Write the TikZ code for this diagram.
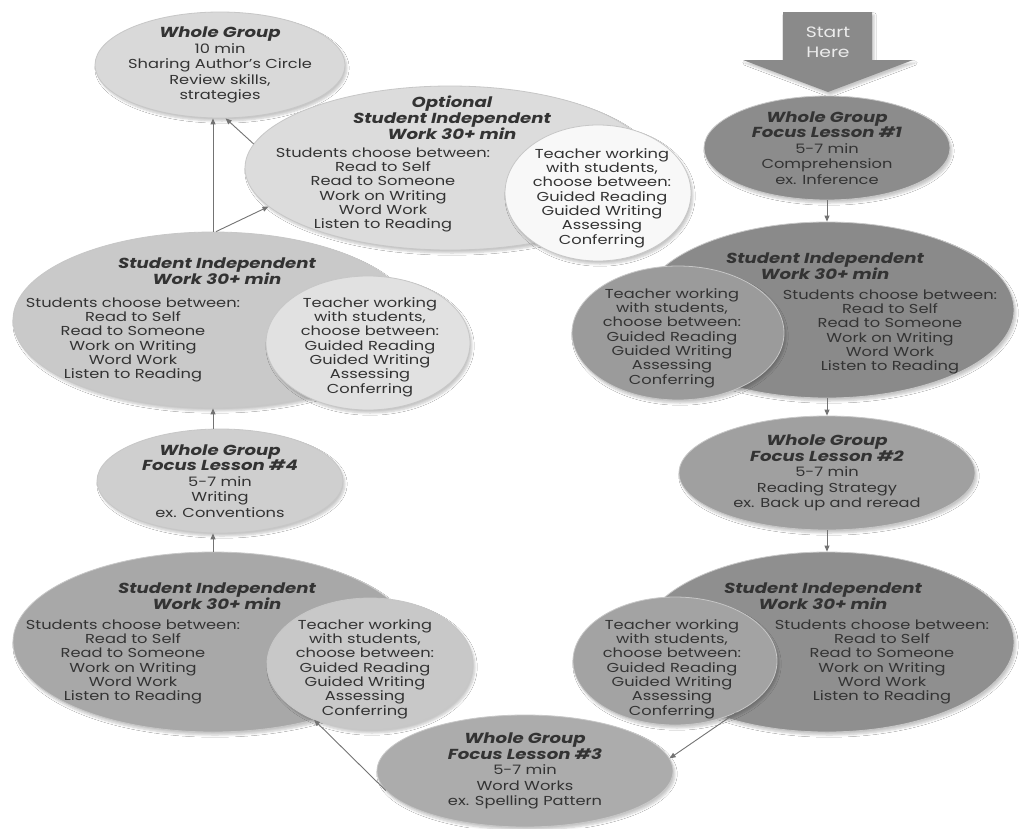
\documentclass[tikz,border=0pt]{standalone}
\usepackage{fontspec}
\setmainfont{Poppins}[FakeStretch=1.25]
\usetikzlibrary{arrows.meta,shapes.geometric,shadows.blur}

\definecolor{gWg}{HTML}{D9D9D9}
\definecolor{gOpt}{HTML}{DCDCDC}
\definecolor{gOptIn}{HTML}{F8F8F8}
\definecolor{gStart}{HTML}{8A8A8A}
\definecolor{gFlA}{HTML}{8C8C8C}
\definecolor{gSiwA}{HTML}{8A8A8A}
\definecolor{gSiwAIn}{HTML}{9B9B9B}
\definecolor{gFlB}{HTML}{A0A0A0}
\definecolor{gSiwB}{HTML}{8F8F8F}
\definecolor{gSiwBIn}{HTML}{A3A3A3}
\definecolor{gFlC}{HTML}{ACACAC}
\definecolor{gSiwC}{HTML}{A8A8A8}
\definecolor{gSiwCIn}{HTML}{C8C8C8}
\definecolor{gFlD}{HTML}{CFCFCF}
\definecolor{gSiwD}{HTML}{C9C9C9}
\definecolor{gSiwDIn}{HTML}{E1E1E1}

\newcommand{\hdr}[1]{{\fontsize{14.5}{17.5}\selectfont\bfseries\itshape #1}}
\newcommand{\kids}{Students choose between:\\Read to Self\\Read to Someone\\Work on Writing\\Word Work\\Listen to Reading}
\newcommand{\teach}{Teacher working\\with students,\\choose between:\\Guided Reading\\Guided Writing\\Assessing\\Conferring}

\begin{document}
\begin{tikzpicture}[x=1pt,y=-1pt,
  bubble/.style={ellipse,draw=black!22,line width=.8pt,inner sep=-14pt,align=center,
    text=black!80,font=\fontsize{13}{15.5}\selectfont,
    blur shadow={shadow xshift=2pt,shadow yshift=-3pt,shadow opacity=22,shadow blur steps=6}},
  txt/.style={align=center,text=black!80,font=\fontsize{13}{14.3}\selectfont,inner sep=0pt},
  flow/.style={draw=black!55,line width=.9pt,-{Triangle[width=5pt,length=6pt]}}]
\useasboundingbox[fill=white] (0,0) rectangle (1020,828);

% Start arrow
\fill[gStart,blur shadow={shadow xshift=2pt,shadow yshift=-3pt,shadow opacity=22}]
  (783,12) -- (872,12) -- (872,60) -- (913,60) -- (828,92) -- (743,60) -- (783,60) -- cycle;
\node[txt,text=white!92!black,font=\fontsize{15}{20}\selectfont] (start) at (828,42) {Start\\Here};

% Right column
\node[bubble,fill=gFlA,minimum width=246,minimum height=104] (fl1) at (827,148)
  {\hdr{Whole Group}\\\hdr{Focus Lesson \#1}\\5-7 min\\Comprehension\\ex. Inference};

\node[bubble,fill=gSiwA,minimum width=374,minimum height=176] (siw1) at (827,310) {};
\node[bubble,fill=gSiwAIn,minimum width=212,minimum height=134] (siw1in) at (678,333) {};
\node[txt] (siw1h) at (825,266) {\hdr{Student Independent}\\\hdr{Work 30+ min}};
\node[txt] (siw1s) at (890,332) {\kids};
\node[txt] (siw1t) at (672,338) {\teach};

\node[bubble,fill=gFlB,minimum width=296,minimum height=114] (fl2) at (827,473)
  {\hdr{Whole Group}\\\hdr{Focus Lesson \#2}\\5-7 min\\Reading Strategy\\ex. Back up and reread};

\node[bubble,fill=gSiwB,minimum width=374,minimum height=180] (siw2) at (827,642) {};
\node[bubble,fill=gSiwBIn,minimum width=204,minimum height=128] (siw2in) at (675,661) {};
\node[txt] (siw2h) at (823,596) {\hdr{Student Independent}\\\hdr{Work 30+ min}};
\node[txt] (siw2s) at (882,662) {\kids};
\node[txt] (siw2t) at (672,669) {\teach};

% Bottom
\node[bubble,fill=gFlC,minimum width=296,minimum height=112] (fl3) at (525,771)
  {\hdr{Whole Group}\\\hdr{Focus Lesson \#3}\\5-7 min\\Word Works\\ex. Spelling Pattern};

% Left column
\node[bubble,fill=gSiwC,minimum width=400,minimum height=180] (siw3) at (213,642) {};
\node[bubble,fill=gSiwCIn,minimum width=206,minimum height=132] (siw3in) at (370,664) {};
\node[txt] (siw3h) at (217,596) {\hdr{Student Independent}\\\hdr{Work 30+ min}};
\node[txt] (siw3s) at (133,662) {\kids};
\node[txt] (siw3t) at (365,669) {\teach};

\node[bubble,fill=gFlD,minimum width=246,minimum height=104] (fl4) at (220,481)
  {\hdr{Whole Group}\\\hdr{Focus Lesson \#4}\\5-7 min\\Writing\\ex. Conventions};

\node[bubble,fill=gSiwD,minimum width=400,minimum height=176] (siw4) at (213,320) {};
\node[bubble,fill=gSiwDIn,minimum width=204,minimum height=134] (siw4in) at (368,343) {};
\node[txt] (siw4h) at (217,271) {\hdr{Student Independent}\\\hdr{Work 30+ min}};
\node[txt] (siw4s) at (133,340) {\kids};
\node[txt] (siw4t) at (370,347) {\teach};

% Top
\node[bubble,fill=gWg,minimum width=250,minimum height=106] (wg) at (220,65)
  {\hdr{Whole Group}\\10 min\\Sharing Author's Circle\\Review skills,\\strategies};

\node[bubble,fill=gOpt,minimum width=410,minimum height=164] (opt) at (450,168) {};
\node[bubble,fill=gOptIn,minimum width=186,minimum height=136] (optin) at (598,193) {};
\node[txt] (opth) at (452,118) {\hdr{Optional}\\\hdr{Student Independent}\\\hdr{Work 30+ min}};
\node[txt] (opts) at (383,190) {\kids};
\node[txt] (optt) at (602,198) {\teach};

% Arrows
\draw[flow] (fl1.south) -- (siw1.north);
\draw[flow] (siw1.south) -- (fl2.north);
\draw[flow] (fl2.south) -- (siw2.north);
\draw[flow] (siw2in.-40) -- (fl3.5);
\draw[flow] (fl3.188) -- (siw3in.-135);
\draw[flow] (siw3.north) -- (siw3.north |- fl4.south);
\draw[flow] (fl4.north -| siw4.south) -- (siw4.south);
\draw[flow] (siw4.north) -- (siw4.north |- wg.south);
\draw[flow] ([xshift=3pt]siw4.north) -- (opt.192);
\draw[flow] (opt.173) -- (wg.-84);

\end{tikzpicture}
\end{document}
